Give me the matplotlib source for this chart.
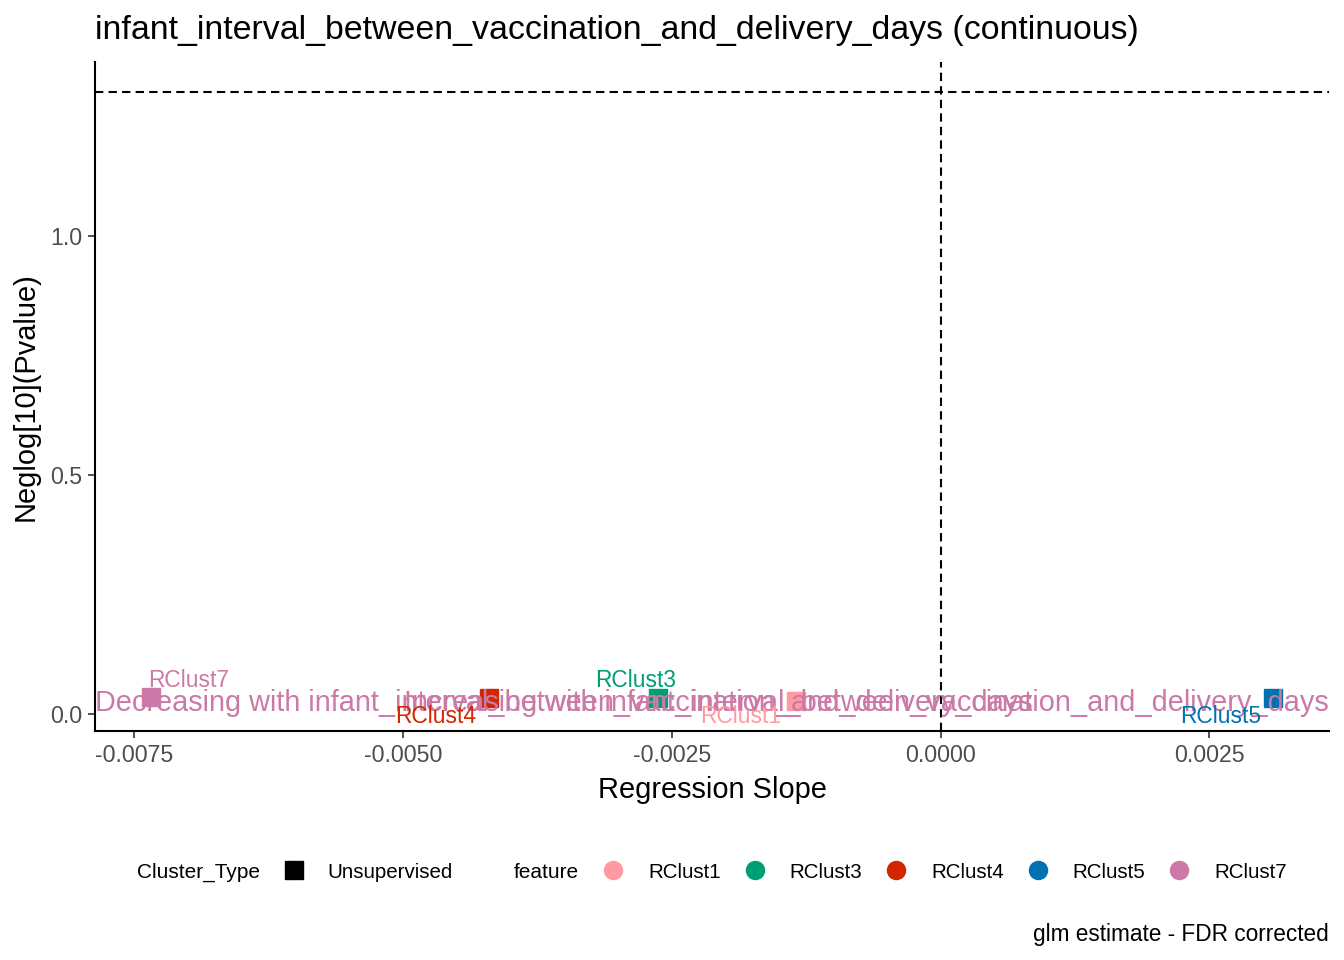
import matplotlib
matplotlib.use("Agg")
import matplotlib.pyplot as plt
from matplotlib.lines import Line2D

plt.rcParams['font.family'] = ['Liberation Sans', 'DejaVu Sans']

# ---- data ----
features = ["RClust1", "RClust3", "RClust4", "RClust5", "RClust7"]
slopes = [-0.00134, -0.00263, -0.00420, 0.00309, -0.00734]
neglogp = [0.029, 0.034, 0.034, 0.034, 0.037]
feature_colors = ["#FF9AA2", "#009E73", "#D12600", "#0072B2", "#CC79A7"]
cluster_types = ["Unsupervised"]
sig_threshold = 1.30103  # -log10(0.05)
x_ticks = [-0.0075, -0.0050, -0.0025, 0.0000, 0.0025]
x_ticklabels = ["-0.0075", "-0.0050", "-0.0025", "0.0000", "0.0025"]
y_ticks = [0.0, 0.5, 1.0]
y_ticklabels = ["0.0", "0.5", "1.0"]
title = "infant_interval_between_vaccination_and_delivery_days (continuous)"
var_name = "infant_interval_between_vaccination_and_delivery_days"
caption = "glm estimate - FDR corrected"
# label offsets (points) for repelled labels
label_offsets = {"RClust1": (-40, -11.5), "RClust3": (-16, 13), "RClust4": (-38, -13),
                 "RClust5": (-38, -13), "RClust7": (27, 12)}

W, H = 1344, 960
fig = plt.figure(figsize=(W / 100, H / 100), dpi=100)
ax = fig.add_axes([95 / W, 1 - 731 / H, (1329 - 95) / W, (731 - 62) / H])

# limits with 5% expansion like ggplot
xmin, xmax = min(slopes), max(slopes)
xr = xmax - xmin
ax.set_xlim(xmin - 0.05 * xr, xmax + 0.05 * xr)
ymin, ymax = min(neglogp), max(max(neglogp), sig_threshold)
yr = ymax - ymin
ax.set_ylim(ymin - 0.05 * yr, ymax + 0.05 * yr)

ax.axhline(sig_threshold, color="black", lw=1.5, ls=(0, (4, 2.5)), zorder=1)
ax.axvline(0, color="black", lw=1.5, ls=(0, (4, 2.5)), zorder=1)

for f, x, y, c in zip(features, slopes, neglogp, feature_colors):
    ax.plot([x], [y], marker="s", ms=13, color=c, ls="none", zorder=3)

# direction annotations
ymin_txt = min(neglogp)
ax.annotate("Decreasing with " + var_name, (0, ymin_txt), xycoords=ax.get_yaxis_transform(),
            xytext=(0, -2), textcoords="offset points",
            ha="left", va="center", fontsize=20.75, color="#CC79A7", zorder=4)
ax.annotate("Increasing with " + var_name, (1, ymin_txt), xycoords=ax.get_yaxis_transform(),
            xytext=(0, -2), textcoords="offset points",
            ha="right", va="center", fontsize=20.75, color="#CC79A7", zorder=4)

for f, x, y, c in zip(features, slopes, neglogp, feature_colors):
    dx, dy = label_offsets[f]
    ax.annotate(f, (x, y), xytext=(dx, dy), textcoords="offset points",
                ha="center", va="center", fontsize=16.4, color=c, zorder=5)

for s in ["top", "right"]:
    ax.spines[s].set_visible(False)
for s in ["left", "bottom"]:
    ax.spines[s].set_linewidth(1.5)
ax.set_xticks(x_ticks)
ax.set_xticklabels(x_ticklabels)
ax.set_yticks(y_ticks)
ax.set_yticklabels(y_ticklabels)
ax.tick_params(axis="both", length=5, width=1.2, colors="#333333", labelsize=16.7,
               labelcolor="#4D4D4D", pad=4)
ax.set_xlabel("Regression Slope", fontsize=20.9, labelpad=7)
ax.set_ylabel("Neglog[10](Pvalue)", fontsize=20.9, labelpad=8)

fig.text(95 / W, 1 - 31 / H, title, ha="left", va="center", fontsize=24.4)
fig.text(1329 / W, 1 - 934 / H, caption, ha="right", va="center", fontsize=16.3)

# legends
ly = 1 - 872 / H
fig.text(137 / W, ly, "Cluster_Type", ha="left", va="center", fontsize=15)
fig.text(514 / W, ly, "feature", ha="left", va="center", fontsize=15)
h1 = [Line2D([], [], marker="s", ms=13, color="black", ls="none") for _ in cluster_types]
leg1 = fig.legend(h1, cluster_types, loc="center left", bbox_to_anchor=(284 / W, ly),
                  frameon=False, fontsize=14.8, handlelength=1.0, handletextpad=1.1,
                  borderpad=0, borderaxespad=0, ncol=len(cluster_types))
h2 = [Line2D([], [], marker="o", ms=13, color=c, ls="none") for c in feature_colors]
leg2 = fig.legend(h2, features, loc="center left", bbox_to_anchor=(603 / W, ly),
                  frameon=False, fontsize=14.8, handlelength=1.0, handletextpad=1.2,
                  columnspacing=1.15, borderpad=0, borderaxespad=0, ncol=len(features))

fig.savefig("out.png", dpi=100)
